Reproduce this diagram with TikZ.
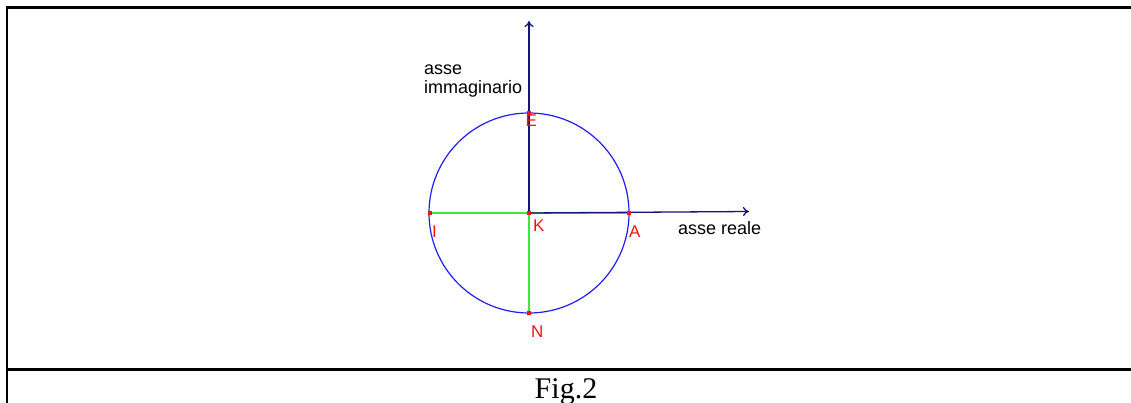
\documentclass[tikz,border=0pt]{standalone}
\usepackage{fontspec}
\setmainfont{Liberation Serif}
\newfontfamily\arialf{Liberation Sans}
\usetikzlibrary{arrows.meta}
\definecolor{axisblue}{RGB}{20,20,120}
\definecolor{circblue}{RGB}{30,30,240}
\definecolor{segreen}{RGB}{60,230,60}
\definecolor{ptred}{RGB}{240,20,20}
\tikzset{
  frameline/.style={line width=2.6pt, black},
  axisline/.style={axisblue, line width=1.3pt, -{To[length=6pt,width=9pt]}},
  greenline/.style={segreen, line width=1.2pt},
  circline/.style={circblue, line width=1.2pt},
  ptlabel/.style={text=ptred, font=\arialf\fontsize{17}{19}\selectfont, inner sep=0pt},
  axlabel/.style={text=black, font=\arialf\fontsize{18}{20}\selectfont, inner sep=0pt, align=left},
  ptmark/.style={fill=ptred, inner sep=0pt, minimum size=3.5pt, draw=none}
}
\begin{document}
\begin{tikzpicture}[x=1pt,y=-1pt]
\useasboundingbox (0,0) rectangle (1131,403);
% frame
\draw[frameline] (1140,7.5) -- (7,7.5) -- (7,410);
\draw[frameline] (7,369.5) -- (1140,369.5);
\node[font=\fontsize{30}{32}\selectfont, inner sep=0pt, anchor=base] (fig) at (566,398) {Fig.2};
% points
\coordinate (K) at (529,213);
\coordinate (A) at (629,213);
\coordinate (I) at (430,213);
\coordinate (E) at (529,113);
\coordinate (N) at (529,313);
\coordinate (xend) at (749,211.5);
\coordinate (yend) at (529,21);
% green segments
\draw[greenline] (I) -- (A);
\draw[greenline] (N) -- (E);
% circle
\draw[circline] (K) circle[radius=100];
% axes
\draw[axisline] (K) -- (xend);
\draw[axisline] (K) -- (yend);
% point marks
\foreach \p in {K,A,I,E,N} \node[ptmark] at (\p) {};
% labels
\node[ptlabel, anchor=base west] (lE) at (525.5,127) {E};
\node[ptlabel, anchor=base west] (lK) at (533,232) {K};
\node[ptlabel, anchor=base west] (lI) at (432,237) {I};
\node[ptlabel, anchor=base west] (lA) at (629,237) {A};
\node[ptlabel, anchor=base west] (lN) at (531,337) {N};
\node[axlabel, anchor=base west] (lx) at (678,235) {asse reale};
\node[axlabel, anchor=base west] (ly1) at (424,75) {asse};
\node[axlabel, anchor=base west] (ly2) at (424,94) {immaginario};
\end{tikzpicture}
\end{document}
